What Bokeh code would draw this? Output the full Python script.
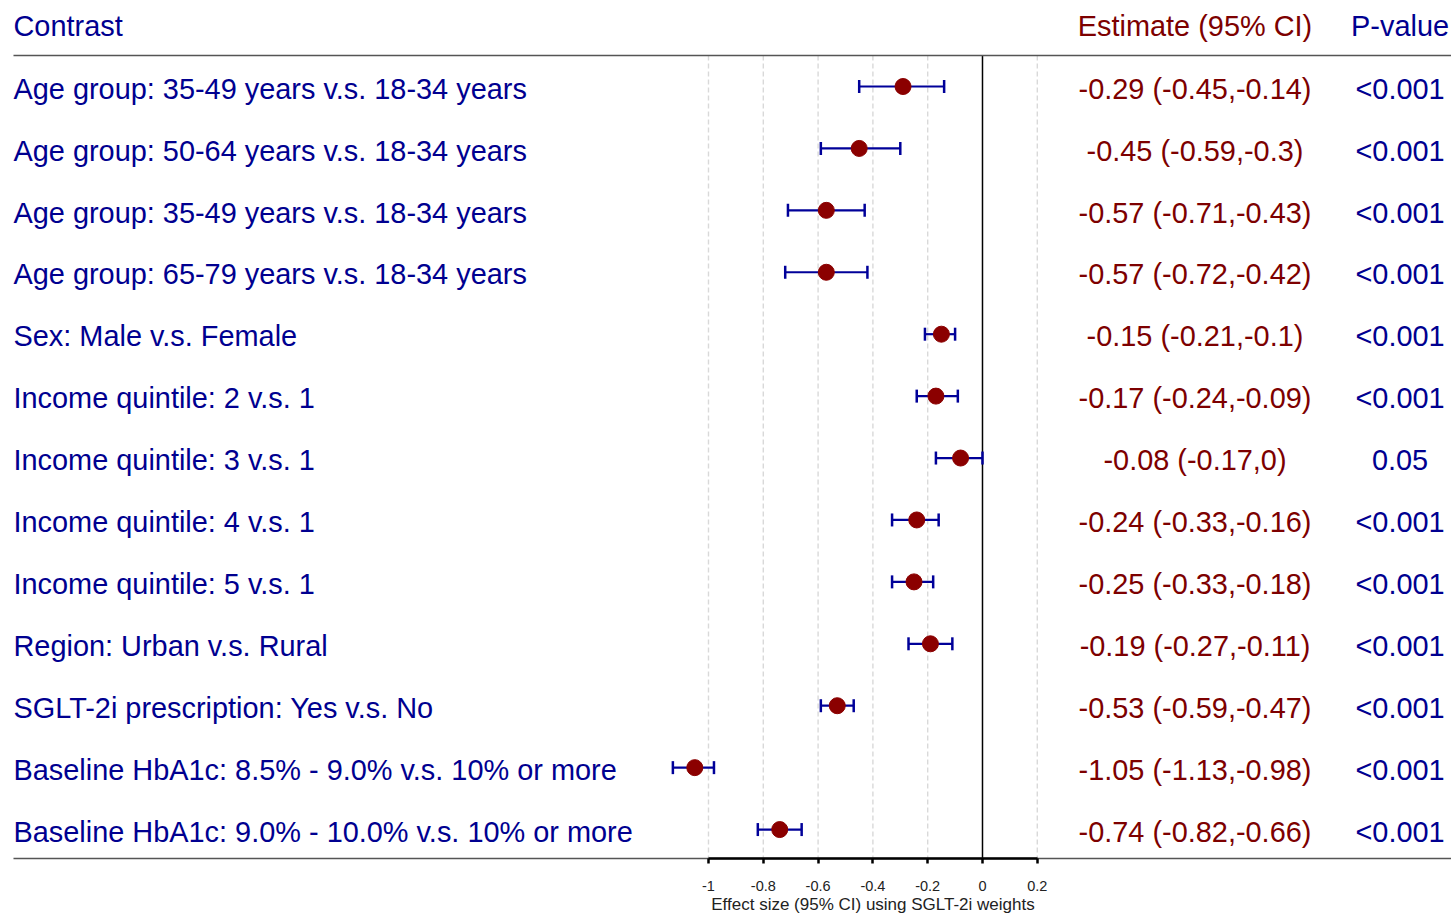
from bokeh.plotting import figure
from bokeh.models import Range1d, LinearAxis, FixedTicker, NumeralTickFormatter, ColumnDataSource
from bokeh.core.properties import value
from bokeh.embed import file_html
from bokeh.resources import INLINE

contrasts = [
    "Age group: 35-49 years v.s. 18-34 years",
    "Age group: 50-64 years v.s. 18-34 years",
    "Age group: 35-49 years v.s. 18-34 years",
    "Age group: 65-79 years v.s. 18-34 years",
    "Sex: Male v.s. Female",
    "Income quintile: 2 v.s. 1",
    "Income quintile: 3 v.s. 1",
    "Income quintile: 4 v.s. 1",
    "Income quintile: 5 v.s. 1",
    "Region: Urban v.s. Rural",
    "SGLT-2i prescription: Yes v.s. No",
    "Baseline HbA1c: 8.5% - 9.0% v.s. 10% or more",
    "Baseline HbA1c: 9.0% - 10.0% v.s. 10% or more",
]
estimates = [-0.29, -0.45, -0.57, -0.57, -0.15, -0.17, -0.08, -0.24, -0.25, -0.19, -0.53, -1.05, -0.74]
lower = [-0.45, -0.59, -0.71, -0.72, -0.21, -0.24, -0.17, -0.33, -0.33, -0.27, -0.59, -1.13, -0.82]
upper = [-0.14, -0.30, -0.43, -0.42, -0.10, -0.09, 0.00, -0.16, -0.18, -0.11, -0.47, -0.98, -0.66]
pvalues = ["<0.001", "<0.001", "<0.001", "<0.001", "<0.001", "<0.001", "0.05",
           "<0.001", "<0.001", "<0.001", "<0.001", "<0.001", "<0.001"]
axis_ticks = [-1, -0.8, -0.6, -0.4, -0.2, 0, 0.2]
grid_ticks = [-1, -0.8, -0.6, -0.4, -0.2, 0.2]

n = len(contrasts)
rows = list(range(n))
est_text = [f"{e:g} ({l:g},{u:g})" for e, l, u in zip(estimates, lower, upper)]

# layout constants (data units)
X_LABEL = -3.5365
X_EST = 0.7755
X_P = 1.524
Y_HEAD = -0.985
Y_TOPLINE = -0.5
Y_AXIS = 12.468

BLUE = "#000090"
DRED = "#7d0000"
MARK = "#8b0000"
FONT = value("Liberation Sans")
FS = "28.9px"

src = ColumnDataSource(dict(
    y=rows, ty=[r + 0.035 for r in rows], est=estimates, lo=lower, hi=upper,
    lab=contrasts, etxt=est_text, p=pvalues,
    c0=[r - 0.105 for r in rows], c1=[r + 0.105 for r in rows],
))

p = figure(width=1451, height=916, output_backend="svg", toolbar_location=None,
           x_range=Range1d(-3.5839, 1.7117), y_range=Range1d(13.404, -1.389),
           min_border=0, min_border_left=0, min_border_right=0,
           min_border_top=0, min_border_bottom=0)
p.axis.visible = False
p.grid.visible = False
p.outline_line_color = None
p.background_fill_color = "white"
p.border_fill_color = "white"

# dashed gridlines
p.segment(x0=grid_ticks, x1=grid_ticks, y0=[Y_TOPLINE] * len(grid_ticks), y1=[Y_AXIS] * len(grid_ticks),
          line_color="#d9d9d9", line_width=1.4, line_dash="5 3")
# zero line
p.segment(x0=[0], x1=[0], y0=[Y_TOPLINE], y1=[Y_AXIS], line_color="black", line_width=1.5)
# horizontal rules
p.segment(x0=[-3.5365, -3.5365], x1=[1.7117, 1.7117], y0=[Y_TOPLINE, Y_AXIS], y1=[Y_TOPLINE, Y_AXIS],
          line_color="#555555", line_width=1.5)

# CI bars and caps
p.segment(x0="lo", x1="hi", y0="y", y1="y", source=src, line_color="#000099", line_width=2.2)
p.segment(x0="lo", x1="lo", y0="c0", y1="c1", source=src, line_color="#000099", line_width=2.5)
p.segment(x0="hi", x1="hi", y0="c0", y1="c1", source=src, line_color="#000099", line_width=2.5)
p.scatter(x="est", y="y", source=src, marker="circle", size=16, fill_color=MARK, line_color=MARK)

# text columns
p.text(x=X_LABEL, y="ty", text="lab", source=src, text_font=FONT, text_font_size=FS,
       text_color=BLUE, text_align="left", text_baseline="middle")
p.text(x=X_EST, y="ty", text="etxt", source=src, text_font=FONT, text_font_size=FS,
       text_color=DRED, text_align="center", text_baseline="middle")
p.text(x=X_P, y="ty", text="p", source=src, text_font=FONT, text_font_size=FS,
       text_color=BLUE, text_align="center", text_baseline="middle")

# headers
p.text(x=[X_LABEL], y=[Y_HEAD], text=["Contrast"], text_font=FONT, text_font_size=FS,
       text_color=BLUE, text_align="left", text_baseline="middle")
p.text(x=[X_EST], y=[Y_HEAD], text=["Estimate (95% CI)"], text_font=FONT, text_font_size=FS,
       text_color=DRED, text_align="center", text_baseline="middle")
p.text(x=[X_P], y=[Y_HEAD], text=["P-value"], text_font=FONT, text_font_size=FS,
       text_color=BLUE, text_align="center", text_baseline="middle")

# x axis
ax = LinearAxis(fixed_location=Y_AXIS, bounds=(-1, 0.2),
                ticker=FixedTicker(ticks=axis_ticks),
                formatter=NumeralTickFormatter(format="0.[0]"),
                axis_label="Effect size (95% CI) using SGLT-2i weights")
ax.axis_line_color = "black"
ax.axis_line_width = 2.5
ax.major_tick_line_color = "black"
ax.major_tick_line_width = 2.5
ax.major_tick_out = 5
ax.major_tick_in = 0
ax.minor_tick_line_color = None
ax.major_label_text_font = "Liberation Sans"
ax.major_label_text_font_size = "14.5px"
ax.major_label_text_color = "#222222"
ax.major_label_standoff = 17
ax.axis_label_text_font = "Liberation Sans"
ax.axis_label_text_font_size = "17px"
ax.axis_label_text_font_style = "normal"
ax.axis_label_text_color = "#222222"
ax.axis_label_standoff = 1
p.add_layout(ax, "below")

open("out.html", "w").write(file_html(p, INLINE))
